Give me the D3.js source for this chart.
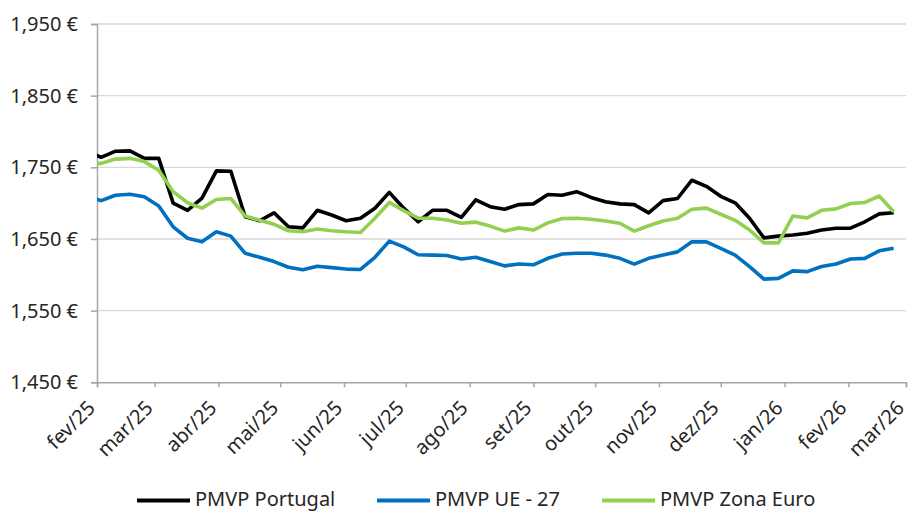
<!DOCTYPE html>
<html>
<head>
<meta charset="utf-8">
<script src="https://cdn.jsdelivr.net/npm/d3@7"></script>
<style>
  html, body { margin: 0; padding: 0; background: #fff; }
  svg { display: block; font-family: "Noto Sans", sans-serif; }
  .tick-label { font-size: 20px; fill: #262626; }
  .legend-text { font-size: 20px; fill: #262626; }
</style>
</head>
<body>
<svg id="chart" width="911" height="511"></svg>
<script>
// Weekly observation dates (Mondays)
const dates = [
  "2025-01-27","2025-02-03","2025-02-10","2025-02-17","2025-02-24","2025-03-03","2025-03-10","2025-03-17",
  "2025-03-24","2025-03-31","2025-04-07","2025-04-14","2025-04-21","2025-04-28","2025-05-05","2025-05-12",
  "2025-05-19","2025-05-26","2025-06-02","2025-06-09","2025-06-16","2025-06-23","2025-06-30","2025-07-07",
  "2025-07-14","2025-07-21","2025-07-28","2025-08-04","2025-08-11","2025-08-18","2025-08-25","2025-09-01",
  "2025-09-08","2025-09-15","2025-09-22","2025-09-29","2025-10-06","2025-10-13","2025-10-20","2025-10-27",
  "2025-11-03","2025-11-10","2025-11-17","2025-11-24","2025-12-01","2025-12-08","2025-12-15","2025-12-22",
  "2025-12-29","2026-01-05","2026-01-12","2026-01-19","2026-01-26","2026-02-02","2026-02-09","2026-02-16",
  "2026-02-23"
];

const pmvpPortugal = [
  1773, 1764, 1772.5, 1773, 1762.5, 1762.5, 1700, 1690, 1707, 1745, 1744.5, 1681, 1675.5, 1686.5,
  1667, 1665.5, 1690, 1683.5, 1675.5, 1679, 1693, 1715, 1693, 1674, 1690, 1690, 1680, 1704.5,
  1695, 1691.5, 1698, 1699, 1712, 1711, 1716, 1708, 1702, 1699, 1698, 1686.5, 1703.5, 1706.5,
  1732, 1723.5, 1709.5, 1700.5, 1679, 1651.5, 1654, 1655.5, 1658, 1662.5, 1665, 1665, 1674,
  1685, 1686.5
];

const pmvpUE27 = [
  1710, 1703.5, 1711, 1712.5, 1709, 1696, 1667, 1651, 1646, 1660, 1654, 1630, 1624.5, 1618.5,
  1610.5, 1607, 1612, 1610, 1608, 1607.5, 1624.5, 1647, 1639, 1628, 1627.5, 1627, 1622, 1624.5,
  1618.5, 1612.5, 1615, 1614, 1623, 1629, 1630, 1630, 1627.5, 1623, 1615, 1623, 1627.5, 1632,
  1646, 1646, 1637, 1627.5, 1611.5, 1594, 1595, 1605.5, 1604.5, 1611.5, 1615, 1622, 1623,
  1633.5, 1637
];

const pmvpZonaEuro = [
  1754, 1755.5, 1761.5, 1762.5, 1758, 1746, 1716, 1700.5, 1693, 1705, 1706.5, 1682, 1676, 1670.5,
  1661.5, 1660, 1664, 1661.5, 1660, 1659, 1679, 1701, 1689.5, 1679, 1679, 1676.5, 1672, 1673.5,
  1668, 1661, 1665.5, 1662.5, 1672.5, 1678.5, 1679, 1677.5, 1675, 1672, 1661, 1668.5, 1675, 1679,
  1691.5, 1693, 1684.5, 1676, 1662.5, 1644.5, 1644.5, 1682, 1679.5, 1690, 1692, 1699.5, 1701,
  1710, 1688
];

const monthTicks = [
  "2025-02-01","2025-03-01","2025-04-01","2025-05-01","2025-06-01","2025-07-01","2025-08-01",
  "2025-09-01","2025-10-01","2025-11-01","2025-12-01","2026-01-01","2026-02-01","2026-03-01"
];
const monthLabels = [
  "fev/25","mar/25","abr/25","mai/25","jun/25","jul/25","ago/25",
  "set/25","out/25","nov/25","dez/25","jan/26","fev/26","mar/26"
];

const yTicks = [1450, 1550, 1650, 1750, 1850, 1950];

const seriesNames = ["PMVP Portugal", "PMVP UE - 27", "PMVP Zona Euro"];
const seriesColors = ["#000000", "#0070C0", "#92D050"];

const parse = d3.utcParse("%Y-%m-%d");
const seriesValues = [pmvpPortugal, pmvpUE27, pmvpZonaEuro];
const series = seriesNames.map((name, i) => ({
  name,
  color: seriesColors[i],
  points: dates.map((d, j) => ({ date: parse(d), value: seriesValues[i][j] }))
}));

const svg = d3.select("#chart");
const plot = { left: 97, right: 906, top: 24, bottom: 382.3 };

const x = d3.scaleUtc()
  .domain([parse(monthTicks[0]), parse(monthTicks[monthTicks.length - 1])])
  .range([plot.left, plot.right]);
const y = d3.scaleLinear().domain([1450, 1950]).range([plot.bottom, plot.top]);

// Horizontal gridlines
svg.append("g")
  .selectAll("line")
  .data(yTicks.filter(v => v !== 1450))
  .join("line")
  .attr("x1", plot.left).attr("x2", plot.right)
  .attr("y1", d => y(d)).attr("y2", d => y(d))
  .attr("stroke", "#d9d9d9").attr("stroke-width", 1.3);

// Y axis
const fmt = d3.format(",");
const yAxis = svg.append("g")
  .attr("transform", `translate(${plot.left},0)`)
  .call(d3.axisLeft(y).tickValues(yTicks).tickSize(6).tickPadding(13)
    .tickFormat(d => fmt(d) + " €"));
yAxis.select(".domain").attr("stroke", "#a6a6a6").attr("stroke-width", 1.5);
yAxis.selectAll(".tick line").attr("stroke", "#a6a6a6").attr("stroke-width", 1.5);
yAxis.selectAll(".tick text").attr("class", "tick-label");
yAxis.attr("font-family", null).attr("font-size", null);

// X axis
const xAxis = svg.append("g")
  .attr("transform", `translate(0,${plot.bottom})`)
  .call(d3.axisBottom(x).tickValues(monthTicks.map(parse)).tickSize(5)
    .tickFormat((d, i) => monthLabels[i]));
xAxis.attr("font-family", null).attr("font-size", null);
xAxis.select(".domain").attr("stroke", "#a6a6a6").attr("stroke-width", 1.5);
xAxis.selectAll(".tick line").attr("stroke", "#a6a6a6").attr("stroke-width", 1.5);
xAxis.selectAll(".tick text")
  .attr("class", "tick-label")
  .attr("text-anchor", "end")
  .attr("x", 0).attr("y", 0).attr("dy", "0.35em")
  .attr("transform", "translate(-6,22) rotate(-45)");

// Series lines, clipped to the plot area
svg.append("clipPath").attr("id", "plot-clip")
  .append("rect").attr("x", plot.left).attr("y", 0)
  .attr("width", plot.right - plot.left + 6).attr("height", 511);

const line = d3.line().x(d => x(d.date)).y(d => y(d.value));
svg.append("g").attr("clip-path", "url(#plot-clip)")
  .selectAll("path")
  .data(series)
  .join("path")
  .attr("d", d => line(d.points))
  .attr("fill", "none")
  .attr("stroke", d => d.color)
  .attr("stroke-width", 3.6)
  .attr("stroke-linejoin", "round");

// Legend
const legendY = 499;
const legendItems = [
  { lx: 137, tx: 195 },
  { lx: 377, tx: 435 },
  { lx: 602, tx: 660 }
];
const legend = svg.append("g");
series.forEach((s, i) => {
  const it = legendItems[i];
  legend.append("line")
    .attr("x1", it.lx).attr("x2", it.lx + 53)
    .attr("y1", legendY + 1.5).attr("y2", legendY + 1.5)
    .attr("stroke", s.color).attr("stroke-width", 4);
  legend.append("text")
    .attr("class", "legend-text")
    .attr("x", it.tx).attr("y", legendY).attr("dy", "0.35em")
    .text(s.name);
});
</script>
</body>
</html>
